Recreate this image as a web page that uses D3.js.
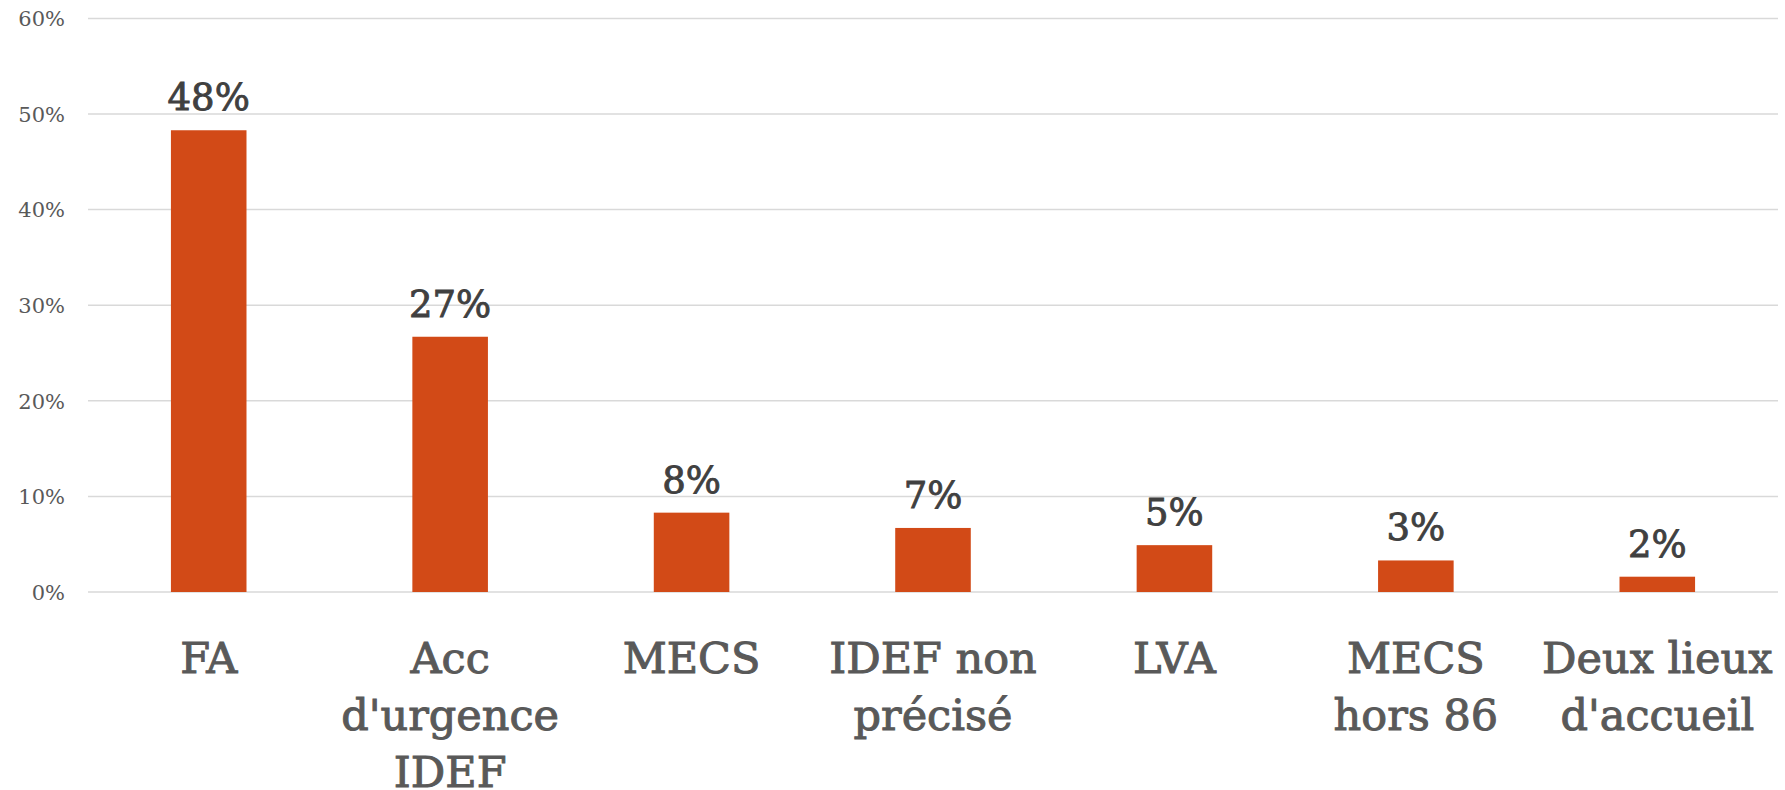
<!DOCTYPE html>
<html><head><meta charset="utf-8">
<script src="https://cdn.jsdelivr.net/npm/d3@7"></script>
<style>
html,body{margin:0;padding:0;background:#fff;}
svg{display:block;}
text{font-family:"DejaVu Serif",serif;}
</style></head>
<body>
<svg id="chart" width="1785" height="790"></svg>
<script>
const categories = [["FA"], ["Acc", "d'urgence", "IDEF"], ["MECS"], ["IDEF non", "précisé"], ["LVA"], ["MECS", "hors 86"], ["Deux lieux", "d'accueil"]];
const values = [0.483, 0.267, 0.083, 0.067, 0.049, 0.033, 0.016];
const valueLabels = ["48%", "27%", "8%", "7%", "5%", "3%", "2%"];
const yTicks = [0, 0.1, 0.2, 0.3, 0.4, 0.5, 0.6];

const svg = d3.select("#chart");
const mLeft = 88, mRight = 1778, mTop = 18.4, mBottom = 592;

const x = d3.scaleBand().domain(d3.range(categories.length)).range([mLeft, mRight]).paddingInner(0.687).paddingOuter(0.3435);
const y = d3.scaleLinear().domain([0, 0.6]).range([mBottom, mTop]);

// gridlines
svg.append("g").selectAll("line").data(yTicks).join("line")
  .attr("x1", mLeft).attr("x2", mRight)
  .attr("y1", d => y(d)).attr("y2", d => y(d))
  .attr("stroke", "#D9D9D9").attr("stroke-width", 1.5);

// y axis labels
const yAxis = d3.axisLeft(y).tickValues(yTicks).tickFormat(d3.format(".0%")).tickSize(0).tickPadding(0);
const ya = svg.append("g").attr("transform", `translate(${mLeft - 23},0)`).call(yAxis);
ya.select(".domain").remove();
ya.selectAll("text").attr("font-family", "DejaVu Serif").attr("font-size", 21).attr("fill", "#595959").attr("dy", "0.35em");

// bars
svg.append("g").selectAll("rect").data(values).join("rect")
  .attr("x", (d, i) => x(i)).attr("width", x.bandwidth())
  .attr("y", d => y(d)).attr("height", d => y(0) - y(d))
  .attr("fill", "#D24A17");

// data labels
svg.append("g").selectAll("text").data(values).join("text")
  .attr("x", (d, i) => x(i) + x.bandwidth() / 2)
  .attr("y", d => y(d) - 20)
  .attr("text-anchor", "middle")
  .attr("font-size", 37).attr("fill", "#404040")
  .attr("stroke", "#404040").attr("stroke-width", 0.9)
  .text((d, i) => valueLabels[i]);

// category labels
const xAxis = d3.axisBottom(x).tickSize(0).tickFormat("");
const xa = svg.append("g").attr("transform", `translate(0,${mBottom})`).call(xAxis);
xa.select(".domain").remove();
xa.selectAll(".tick").each(function(d) {
  const t = d3.select(this).append("text")
    .attr("text-anchor", "middle").attr("font-size", 43).attr("fill", "#595959")
    .attr("stroke", "#595959").attr("stroke-width", 1)
    .attr("font-family", "DejaVu Serif");
  categories[d].forEach((line, j) => {
    t.append("tspan").attr("x", 0).attr("y", 81 + j * 57).text(line);
  });
});
</script>
</body></html>
